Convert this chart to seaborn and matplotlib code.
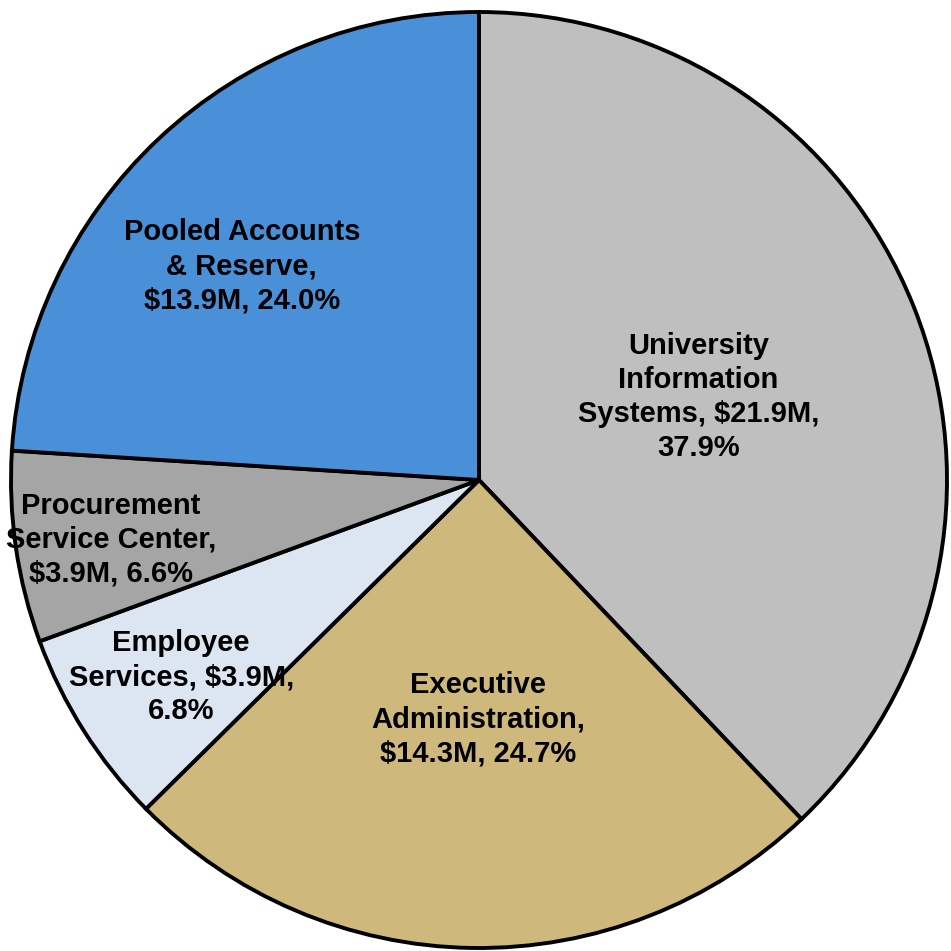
import matplotlib
matplotlib.use("Agg")
import matplotlib.pyplot as plt
import seaborn as sns
import numpy as np

sns.set_theme(style="white")
plt.rcParams['font.family'] = ['Liberation Sans', 'DejaVu Sans']

categories = ["University\nInformation\nSystems", "Executive\nAdministration",
              "Employee\nServices", "Procurement\nService Center", "Pooled Accounts\n& Reserve"]
amounts = ["$21.9M", "$14.3M", "$3.9M", "$3.9M", "$13.9M"]
percents = [37.9, 24.7, 6.8, 6.6, 24.0]
labels = [
    "University\nInformation\nSystems, $21.9M,\n37.9%",
    "Executive\nAdministration,\n$14.3M, 24.7%",
    "Employee\nServices, $3.9M,\n6.8%",
    "Procurement\nService Center,\n$3.9M, 6.6%",
    "Pooled Accounts\n& Reserve,\n$13.9M, 24.0%",
]
colors = ["#BFBFBF", "#CFB87C", "#DCE6F2", "#A5A5A5", "#4A90D9"]
# label placement (polar, in pie-radius units / degrees)
label_r = [0.501, 0.511, 0.763, 0.797, 0.682]
label_ang = [20.7, -90.2, -146.5, -170.8, 138.0]

fig = plt.figure(figsize=(9.51, 9.51), dpi=100)
ax = fig.add_axes([11 / 951, 3 / 951, 936 / 951, 936 / 951])
wedges, texts = ax.pie(percents, colors=colors, startangle=90, counterclock=False,
                       labels=labels, labeldistance=0.5,
                       wedgeprops=dict(edgecolor="black", linewidth=2.8),
                       textprops=dict(fontsize=21, fontweight="bold", color="black",
                                      ha="center", va="center", linespacing=1.27))
for t, r, a in zip(texts, label_r, label_ang):
    ang = np.deg2rad(a)
    t.set_position((r * np.cos(ang), r * np.sin(ang)))
    t.set_horizontalalignment("center")
ax.set_xlim(-1.0, 1.0)
ax.set_ylim(-1.0, 1.0)
ax.set_aspect("equal")
ax.axis("off")
fig.savefig("out.png", dpi=100, facecolor="white")
